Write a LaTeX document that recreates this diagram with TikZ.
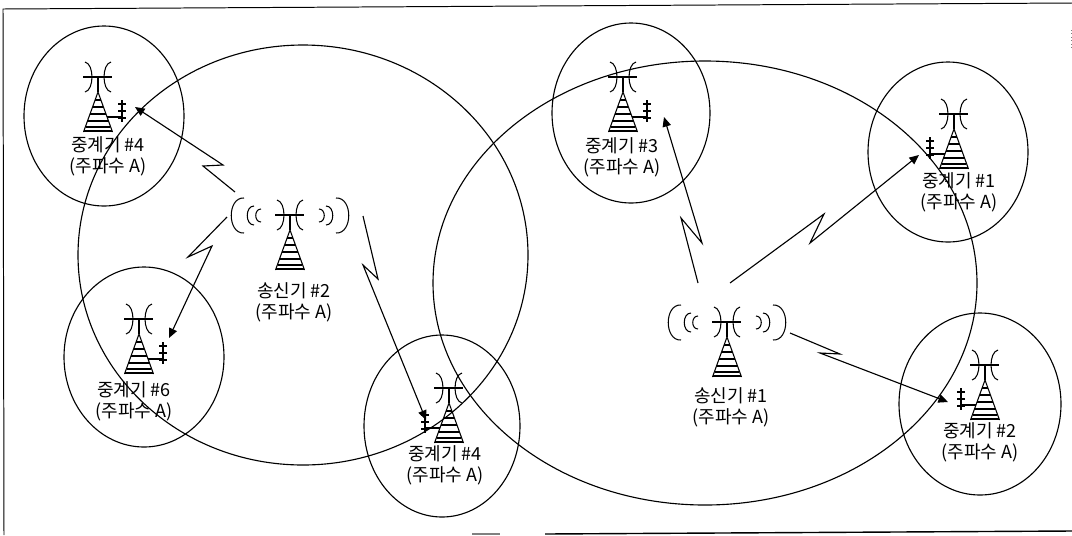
\documentclass[tikz,border=0pt]{standalone}
\usepackage{fontspec}
\setmainfont{Noto Sans CJK KR}
\usepackage{tikz}
\usetikzlibrary{arrows.meta}

\tikzset{
 mastpart/.pic={
  \draw[lne] (-15,0)--(14,0);
  \draw[lne] (0,0)--(0,15);
  \foreach \s in {-1,1}
    \draw[lne] ({\s*13},-15) .. controls ({\s*3.7},-13) and ({\s*3.7},13) .. ({\s*13},15);
  \draw[lne] (-14.5,55)--(0,15)--(14.5,55);
  \foreach \r in {23,30,37,44,50,54}
    \draw[lne] ({-(\r-15)*.35},\r)--({(\r-15)*.35},\r);
 },
 relay/.pic={
  \pic {mastpart};
  \draw[lne] (9,40)--(24,40);
  \draw[lne] (24,23)--(24,45);
  \foreach \r in {27,34,41}
    \draw[lne] (20,\r)--(28,\r);
 },
 sender/.pic={
  \pic {mastpart};
  \foreach \s in {-1,1}{
    \draw[lne] ({\s*46},-17) .. controls ({\s*63},-18) and ({\s*63},19) .. ({\s*46},18);
    \draw[lne] ({\s*36},-9) .. controls ({\s*45},-9) and ({\s*45},10) .. ({\s*36},10);
    \draw[lne] ({\s*29},-6) .. controls ({\s*36},-6) and ({\s*36},7) .. ({\s*29},7);
  }
 }
}

\begin{document}
\begin{tikzpicture}[x=0.025cm,y=-0.025cm,
 font=\fontsize{12.8}{14.9}\selectfont,
 lne/.style={line width=0.75pt},
 ring/.style={line width=0.8pt},
 lbl/.style={align=center,inner sep=0pt},
 arr/.style={-{Stealth[length=2.4mm,width=2.1mm,inset=0pt]},line width=0.8pt}]
\useasboundingbox (0,0) rectangle (1072,535);
% frame
\draw[line width=0.7pt] (1072,3)--(3,9)--(4,535);
\draw[line width=1pt] (545,534)--(1072,531);
\draw[gray,line width=1pt] (472,534)--(500,534);
\draw[gray,dotted] (1071,30)--(1071,50);
% coverage
\draw[ring] (303,255) ellipse (225 and 210);
\draw[ring] (705,283) ellipse (272 and 222);
\draw[ring] (104,116) ellipse (80 and 90);
\draw[ring] (144,357) ellipse (80 and 90);
\draw[ring] (442,426) ellipse (78 and 91);
\draw[ring] (631,113) ellipse (79 and 90);
\draw[ring] (948,152) ellipse (80 and 90);
\draw[ring] (980,404) ellipse (81 and 91);
% towers
\pic at (290,215) {sender};
\pic at (727,322) {sender};
\pic at (98,77) {relay};
\pic at (139,319) {relay};
\pic at (623,77) {relay};
\pic[xscale=-1] at (449,388) {relay};
\pic[xscale=-1] at (954,114) {relay};
\pic[xscale=-1] at (985,365) {relay};
% labels
\node[lbl] (senderb) at (294,302) {송신기 \#2\\(주파수 A)};
\node[lbl] (sendera) at (731,407) {송신기 \#1\\(주파수 A)};
\node[lbl] (relayd) at (108,156) {중계기 \#4\\(주파수 A)};
\node[lbl] (relayf) at (134,401) {중계기 \#6\\(주파수 A)};
\node[lbl] (relaye) at (445,465) {중계기 \#4\\(주파수 A)};
\node[lbl] (relayc) at (622,157) {중계기 \#3\\(주파수 A)};
\node[lbl] (relaya) at (959,192) {중계기 \#1\\(주파수 A)};
\node[lbl] (relayb) at (980,442) {중계기 \#2\\(주파수 A)};
% links
\coordinate (bnw) at (235,192);
\coordinate (bsw) at (227,217);
\coordinate (bse) at (363,216);
\coordinate (ane) at (730,283);
\coordinate (anw) at (698,283);
\coordinate (ase) at (790,333);
\coordinate (dend) at (135,107);
\coordinate (fend) at (169,338);
\coordinate (eend) at (426,420);
\coordinate (cend) at (664,117);
\coordinate (aend) at (919,155);
\coordinate (bend) at (948,402);
\draw[arr] (bnw)--(203,166)--(223,165)--(dend);
\draw[arr] (bsw)--(188,257)--(212,246)--(fend);
\draw[arr] (bse)--(378,279)--(363,265)--(eend);
\draw[arr] (anw)--(681,218)--(702,243)--(cend);
\draw[arr] (ane)--(824,214)--(810,243)--(aend);
\draw[arr] (ase)--(840,354)--(820,353)--(bend);
\end{tikzpicture}
\end{document}
